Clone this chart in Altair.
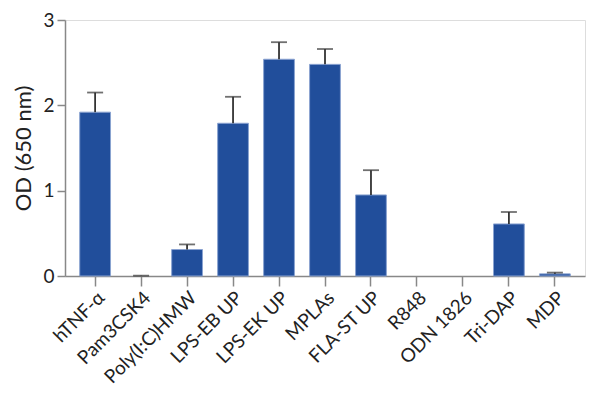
import altair as alt
import pandas as pd

categories = ["hTNF-α", "Pam3CSK4", "Poly(I:C)HMW", "LPS-EB UP", "LPS-EK UP",
              "MPLAs", "FLA-ST UP", "R848", "ODN 1826", "Tri-DAP", "MDP"]
means = [1.92, 0.0, 0.31, 1.79, 2.54, 2.48, 0.95, 0.0, 0.0, 0.61, 0.025]
errors = [0.23, 0.004, 0.06, 0.31, 0.20, 0.18, 0.29, 0.0, 0.0, 0.14, 0.015]
y_ticks = [0, 1, 2, 3]

df = pd.DataFrame({"cat": categories, "mean": means, "err": errors})
df["top"] = df["mean"] + df["err"]
df_err = df[df["err"] > 0]

FONT = "Lato"

x_enc = alt.X("cat:N", sort=categories, title=None,
              scale=alt.Scale(domain=categories, paddingInner=0.33, paddingOuter=0.32),
              axis=alt.Axis(labelAngle=-45, labelAlign="right", labelBaseline="top",
                            labelFontSize=19, labelFont=FONT, labelColor="#222",
                            tickSize=10, tickColor="#888", domainColor="#888",
                            domainWidth=1.5, tickWidth=1.5, labelPadding=2))
y_scale = alt.Scale(domain=[0, 3], nice=False)
y_axis = alt.Axis(values=y_ticks, title="OD (650 nm)", titleFont=FONT, titleFontSize=22,
                  titleFontWeight="normal", titleColor="#222", titlePadding=7,
                  labelFont=FONT, labelFontSize=19, labelColor="#222", tickSize=8,
                  tickColor="#888", domainColor="#888", domainWidth=1.5, tickWidth=1.5,
                  grid=False, labelPadding=3, format="d")

base = alt.Chart(df)

bars = base.transform_filter("datum.mean > 0").mark_bar(
    color="#214e9b", stroke="#8aa3d1", strokeWidth=1).encode(
    x=x_enc,
    y=alt.Y("mean:Q", scale=y_scale, axis=y_axis),
)

rules = alt.Chart(df_err).mark_rule(color="#333", strokeWidth=1.8).encode(
    x=alt.X("cat:N", sort=categories),
    y=alt.Y("mean:Q"),
    y2="top:Q",
)

caps = alt.Chart(df_err).mark_tick(color="#333", thickness=1.8, size=16).encode(
    x=alt.X("cat:N", sort=categories),
    y=alt.Y("top:Q"),
)

chart = alt.layer(bars, rules, caps).properties(
    width=520, height=256,
    padding={"left": 4, "top": 3, "right": 5, "bottom": 5},
).configure_view(stroke=None).configure(background="white")

chart.save("out.html", embed_options={"renderer": "svg", "actions": False})
